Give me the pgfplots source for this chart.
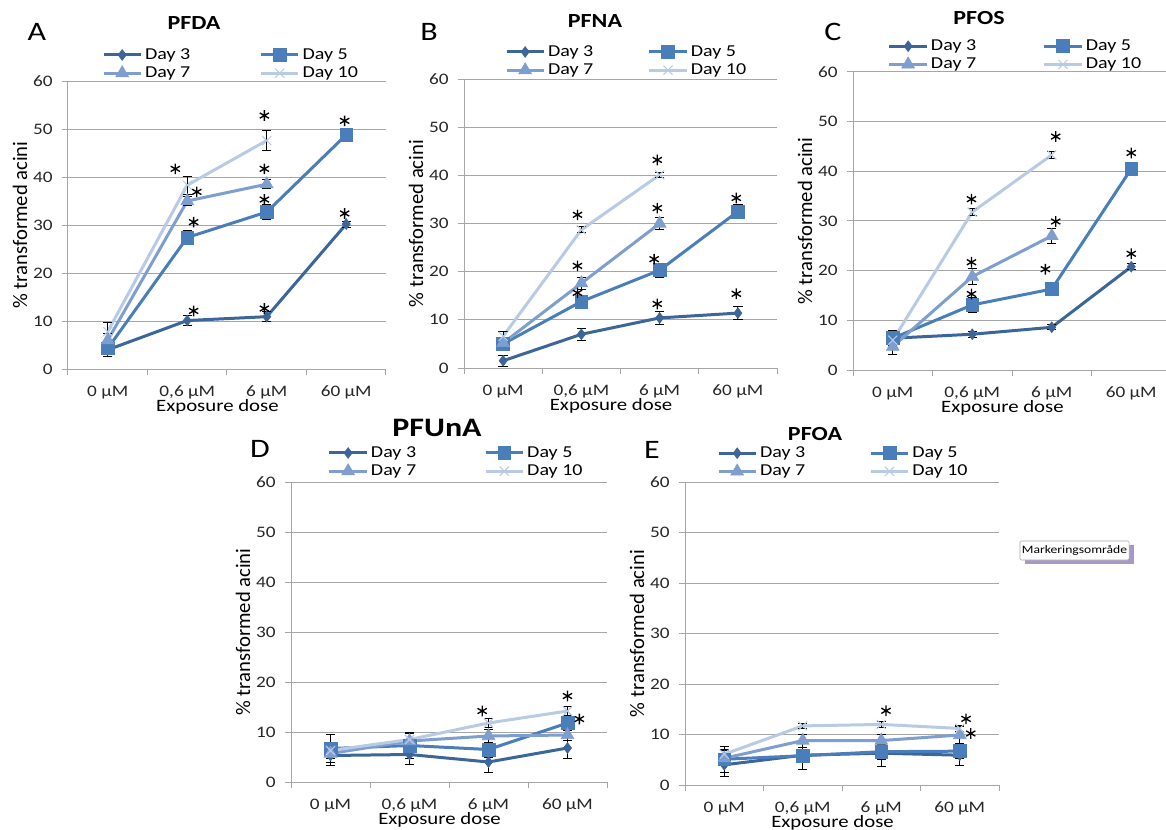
\documentclass[border=0pt]{standalone}
\usepackage{fontspec}
\setmainfont{Carlito}[FakeStretch=1.2]
\newfontfamily\plainfont{Carlito}
\usepackage{pgfplots}
\pgfplotsset{compat=1.18}

\definecolor{dthree}{HTML}{3C6699}
\definecolor{dfive}{HTML}{4A7EBB}
\definecolor{dseven}{HTML}{7E9ECF}
\definecolor{dten}{HTML}{B9CBE4}
\definecolor{gridc}{HTML}{A6A6A6}
\definecolor{shd}{HTML}{A898C8}

\pgfplotsset{
  panel/.style={
    scale only axis, anchor=south west, clip=false,
    xmin=-0.5, xmax=3.5, ymin=0, ymax=60,
    xtick={-0.5,0.5,1.5,2.5,3.5}, xticklabels={},
    extra x ticks={0,1,2,3},
    extra x tick labels={{0 µM},{0,6 µM},{6 µM},{60 µM}},
    extra x tick style={major tick length=0pt, tick label style={yshift=-9pt}},
    ytick={0,10,...,60},
    axis x line*=bottom, axis y line*=left,
    axis line style={gridc, line width=0.75pt, -},
    ymajorgrids, major grid style={gridc, line width=0.75pt},
    tick align=outside, major tick length=4.5pt,
    tick style={gridc, line width=0.75pt},
    tick label style={font=\fontsize{12}{14}\selectfont, text=black!85},
    yticklabel style={xshift=-3.5pt},
    /pgf/number format/assume math mode=true,
    xlabel={Exposure dose}, ylabel={\% transformed acini},
    xlabel style={font=\fontsize{13}{15}\selectfont, at={(axis description cs:0.47,0)}, anchor=center, yshift=-28.5pt},
    ylabel style={font=\plainfont\fontsize{15.5}{17}\selectfont, at={(axis description cs:0,0.5)}, anchor=center, yshift=36pt},
    legend columns=2, legend cell align=left,
    legend style={draw=none, fill=none, anchor=north west, inner sep=0pt, outer sep=0pt,
      font=\fontsize{12.5}{14}\selectfont, row sep=0pt},
  },
  limg/.style={legend image code/.code={\draw[mark repeat=2,mark phase=2] plot coordinates {(0pt,0pt) (14pt,0pt) (28pt,0pt)};}},
  eb/.style={limg, error bars/y dir=both, error bars/y explicit,
    error bars/error bar style={black, line width=0.6pt},
    error bars/error mark options={rotate=90, black, mark size=3.5pt, line width=0.6pt}},
  d3/.style={eb, dthree, line width=2.25pt, mark=diamond*, mark size=4pt, mark options={solid, line width=0.5pt}},
  d5/.style={eb, dfive, line width=2.25pt, mark=square*, mark size=4.8pt, mark options={solid, line width=0.5pt}},
  d7/.style={eb, dseven, line width=2.25pt, mark=triangle*, mark size=5.5pt, mark options={solid, line width=0.5pt}},
  d10/.style={eb, dten, line width=2.25pt, mark=x, mark size=4.8pt, mark options={solid, line width=0.8pt}},
  star/.style={only marks, mark=asterisk, mark size=4pt, black, line width=1pt, forget plot},
}

\begin{document}
\begin{tikzpicture}
\useasboundingbox (0,0) rectangle (874.5pt,-622.5pt);

% A: PFDA
\begin{axis}[panel, at={(51pt,-276.75pt)}, width=238.5pt, height=216pt,
  legend style={at={(0.107,1.122)}, /tikz/every even column/.append style={column sep=50pt}}]
\addplot[d3] coordinates {(0,4.0) +- (0,1.3) (1,10.1) +- (0,1.0) (2,10.9) +- (0,1.0) (3,30.2) +- (0,0.6)};
\addplot[d5] coordinates {(0,4.3) +- (0,1.2) (1,27.4) +- (0,1.5) (2,32.7) +- (0,1.6) (3,48.8) +- (0,1.4)};
\addplot[d7] coordinates {(0,6.0) +- (0,1.5) (1,35.0) +- (0,1.0) (2,38.5) +- (0,0.9)};
\addplot[d10] coordinates {(0,7.8) +- (0,2.0) (1,38.3) +- (0,1.9) (2,47.6) +- (0,2.1)};
\addplot[star] coordinates {(0.85,41.7) (1.12,36.9) (1.08,30.6) (1.08,12.1) (1.97,52.8) (1.97,41.7) (1.97,35.3) (1.97,12.6) (2.98,51.7) (2.98,32.4)};
\legend{Day 3, Day 5, Day 7, Day 10}
\end{axis}

% B: PFNA
\begin{axis}[panel, at={(348pt,-276pt)}, width=234.75pt, height=216.75pt,
  legend style={at={(0.131,1.125)}, /tikz/every even column/.append style={column sep=39pt}}]
\addplot[d3] coordinates {(0,1.5) +- (0,1.2) (1,7.0) +- (0,1.3) (2,10.4) +- (0,1.3) (3,11.4) +- (0,1.4)};
\addplot[d5] coordinates {(0,5.0) +- (0,1.2) (1,13.8) +- (0,1.2) (2,20.3) +- (0,1.5) (3,32.5) +- (0,1.5)};
\addplot[d7] coordinates {(0,5.2) +- (0,1.2) (1,17.6) +- (0,1.2) (2,30.0) +- (0,1.3)};
\addplot[d10] coordinates {(0,6.6) +- (0,1.0) (1,28.7) +- (0,0.6) (2,40.1) +- (0,0.6)};
\addplot[star] coordinates {(0.95,31.8) (0.95,21.2) (0.95,15.6) (1.97,43.2) (1.97,33.2) (1.93,22.6) (1.97,13.3) (2.98,35.3) (2.98,15.4)};
\legend{Day 3, Day 5, Day 7, Day 10}
\end{axis}

% C: PFOS
\begin{axis}[panel, at={(639.75pt,-277.5pt)}, width=238.5pt, height=223.5pt,
  legend style={at={(0.110,1.117)}, /tikz/every even column/.append style={column sep=48pt}}]
\addplot[d3] coordinates {(0,6.4) +- (0,0.8) (1,7.2) +- (0,0.6) (2,8.6) +- (0,0.5) (3,20.8) +- (0,0.6)};
\addplot[d5] coordinates {(0,6.4) +- (0,1.5) (1,13.1) +- (0,1.6) (2,16.3) +- (0,1.3) (3,40.5) +- (0,1.3)};
\addplot[d7] coordinates {(0,4.7) +- (0,1.5) (1,18.8) +- (0,1.6) (2,27.0) +- (0,1.5)};
\addplot[d10] coordinates {(0,6.0) +- (0,1.0) (1,31.8) +- (0,0.7) (2,43.3) +- (0,0.7)};
\addplot[star] coordinates {(0.99,34.4) (0.99,21.7) (0.99,15.3) (2.05,47.0) (2.05,29.9) (1.92,20.3) (3,43.7) (3,23.4)};
\legend{Day 3, Day 5, Day 7, Day 10}
\end{axis}

% D: PFUnA
\begin{axis}[panel, at={(218.25pt,-586.5pt)}, width=237pt, height=225pt,
  legend style={at={(0.117,1.127)}, /tikz/every even column/.append style={column sep=49pt}}]
\addplot[d3] coordinates {(0,5.3) +- (0,2.0) (1,5.5) +- (0,2.0) (2,4.0) +- (0,2.0) (3,6.8) +- (0,2.1)};
\addplot[d5] coordinates {(0,6.7) +- (0,2.8) (1,7.3) +- (0,2.5) (2,6.5) +- (0,1.5) (3,11.8) +- (0,1.5)};
\addplot[d7] coordinates {(0,5.7) +- (0,1.0) (1,8.2) +- (0,1.5) (2,9.2) +- (0,1.3) (3,9.4) +- (0,1.0)};
\addplot[d10] coordinates {(0,6.3) +- (0,1.0) (1,8.5) +- (0,1.5) (2,11.8) +- (0,0.9) (3,14.2) +- (0,1.0)};
\addplot[star] coordinates {(1.92,14.2) (3,17.2) (3.15,12.6)};
\legend{Day 3, Day 5, Day 7, Day 10}
\end{axis}

% E: PFOA
\begin{axis}[panel, at={(513.75pt,-588.75pt)}, width=235.5pt, height=227.25pt,
  legend style={at={(0.102,1.125)}, /tikz/every even column/.append style={column sep=46pt}}]
\addplot[d3] coordinates {(0,4.0) +- (0,2.2) (1,5.9) +- (0,1.5) (2,6.3) +- (0,2.6) (3,5.9) +- (0,2.0)};
\addplot[d5] coordinates {(0,5.1) +- (0,2.6) (1,5.8) +- (0,2.8) (2,6.6) +- (0,1.5) (3,6.7) +- (0,1.5)};
\addplot[d7] coordinates {(0,5.3) +- (0,1.5) (1,8.8) +- (0,1.3) (2,8.8) +- (0,1.3) (3,9.9) +- (0,1.9)};
\addplot[d10] coordinates {(0,6.1) +- (0,1.0) (1,11.7) +- (0,0.5) (2,12.0) +- (0,0.5) (3,11.2) +- (0,0.5)};
\addplot[star] coordinates {(2.06,14.7) (3.08,13.1) (3.14,10.2)};
\legend{Day 3, Day 5, Day 7, Day 10}
\end{axis}

\begin{scope}[x=0.75pt, y=-0.75pt]
\tikzset{ttl/.style={font=\bfseries\fontsize{15}{17}\selectfont}, lett/.style={font=\fontsize{20}{22}\selectfont}}
\node[ttl] at (194,23) {PFDA};
\node[ttl] at (595,21) {PFNA};
\node[ttl] at (979,18) {PFOS};
\node[font=\bfseries\fontsize{20}{22}\selectfont] at (437,428) {PFUnA};
\node[ttl] at (815,434) {PFOA};
\node[lett] at (37,32) {A};
\node[lett] at (429,32) {B};
\node[lett] at (833,32) {C};
\node[lett] at (260,449) {D};
\node[lett] at (652,450) {E};
\fill[shd] (1025,545) rectangle (1134,564);
\node[draw=gray!70, fill=white, rounded corners=1pt, minimum width=81.75pt, minimum height=14.25pt,
  inner sep=0pt, font=\fontsize{8.5}{10}\selectfont] at (1074.5,550.5) {Markeringsområde};
\end{scope}
\end{tikzpicture}
\end{document}
